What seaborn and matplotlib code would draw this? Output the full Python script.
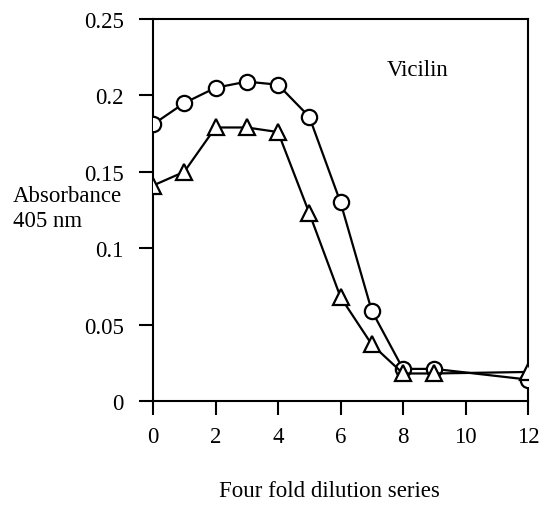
import matplotlib
matplotlib.use("Agg")
import matplotlib.pyplot as plt
import seaborn as sns
import pandas as pd

# Four-fold dilution steps and absorbance readings at 405 nm
dilution = [0, 1, 2, 3, 4, 5, 6, 7, 8, 9, 12]
circle_abs = [0.181, 0.195, 0.205, 0.209, 0.207, 0.186, 0.130, 0.059, 0.021, 0.021, 0.014]
triangle_abs = [0.141, 0.150, 0.179, 0.179, 0.176, 0.123, 0.068, 0.037, 0.018, 0.018, 0.019]

x_ticks = [0, 2, 4, 6, 8, 10, 12]
y_ticks = [0, 0.05, 0.1, 0.15, 0.2, 0.25]
y_tick_labels = ["0", "0.05", "0.1", "0.15", "0.2", "0.25"]

df = pd.DataFrame({
    "dilution": dilution * 2,
    "absorbance": circle_abs + triangle_abs,
    "series": ["circle"] * len(dilution) + ["triangle"] * len(dilution),
})

sns.set_style("ticks")
plt.rcParams["font.family"] = ["Liberation Serif", "DejaVu Serif"]
plt.rcParams["text.color"] = "black"

FS = 16.5

fig = plt.figure(figsize=(5.51, 5.10), dpi=100)
ax = fig.add_axes([0.2777, 0.2118, 0.6806, 0.749])

sns.lineplot(
    data=df, x="dilution", y="absorbance", style="series",
    markers={"circle": "o", "triangle": "^"},
    dashes={"circle": "", "triangle": ""},
    color="black", linewidth=1.6, markersize=11,
    markerfacecolor="white", markeredgecolor="black", markeredgewidth=1.6,
    legend=False, ax=ax, zorder=3,
)

ax.set_xlim(0, 12)
ax.set_ylim(0, 0.25)
ax.set_xticks(x_ticks)
ax.set_yticks(y_ticks)
ax.set_yticklabels(y_tick_labels)
ax.tick_params(axis="both", direction="out", length=10, width=1.5,
               labelsize=FS, colors="black")
ax.tick_params(axis="x", pad=8)
ax.tick_params(axis="y", pad=11)
for s in ax.spines.values():
    s.set_linewidth(1.5)
    s.set_color("black")
    s.set_visible(True)
for lbl in ax.get_xticklabels() + ax.get_yticklabels():
    lbl.set_clip_on(False)

ax.set_xlabel("")
ax.set_ylabel("")
ax.text(8.48, 0.217, "Vicilin", fontsize=FS, ha="center", va="center", color="black")
fig.text(0.024, 0.590, "Absorbance\n405 nm", fontsize=FS, ha="left", va="center",
         linespacing=1.25, color="black")
fig.text(0.597, 0.036, "Four fold dilution series", fontsize=FS, ha="center",
         va="center", color="black")

fig.savefig("out.png", dpi=100)
